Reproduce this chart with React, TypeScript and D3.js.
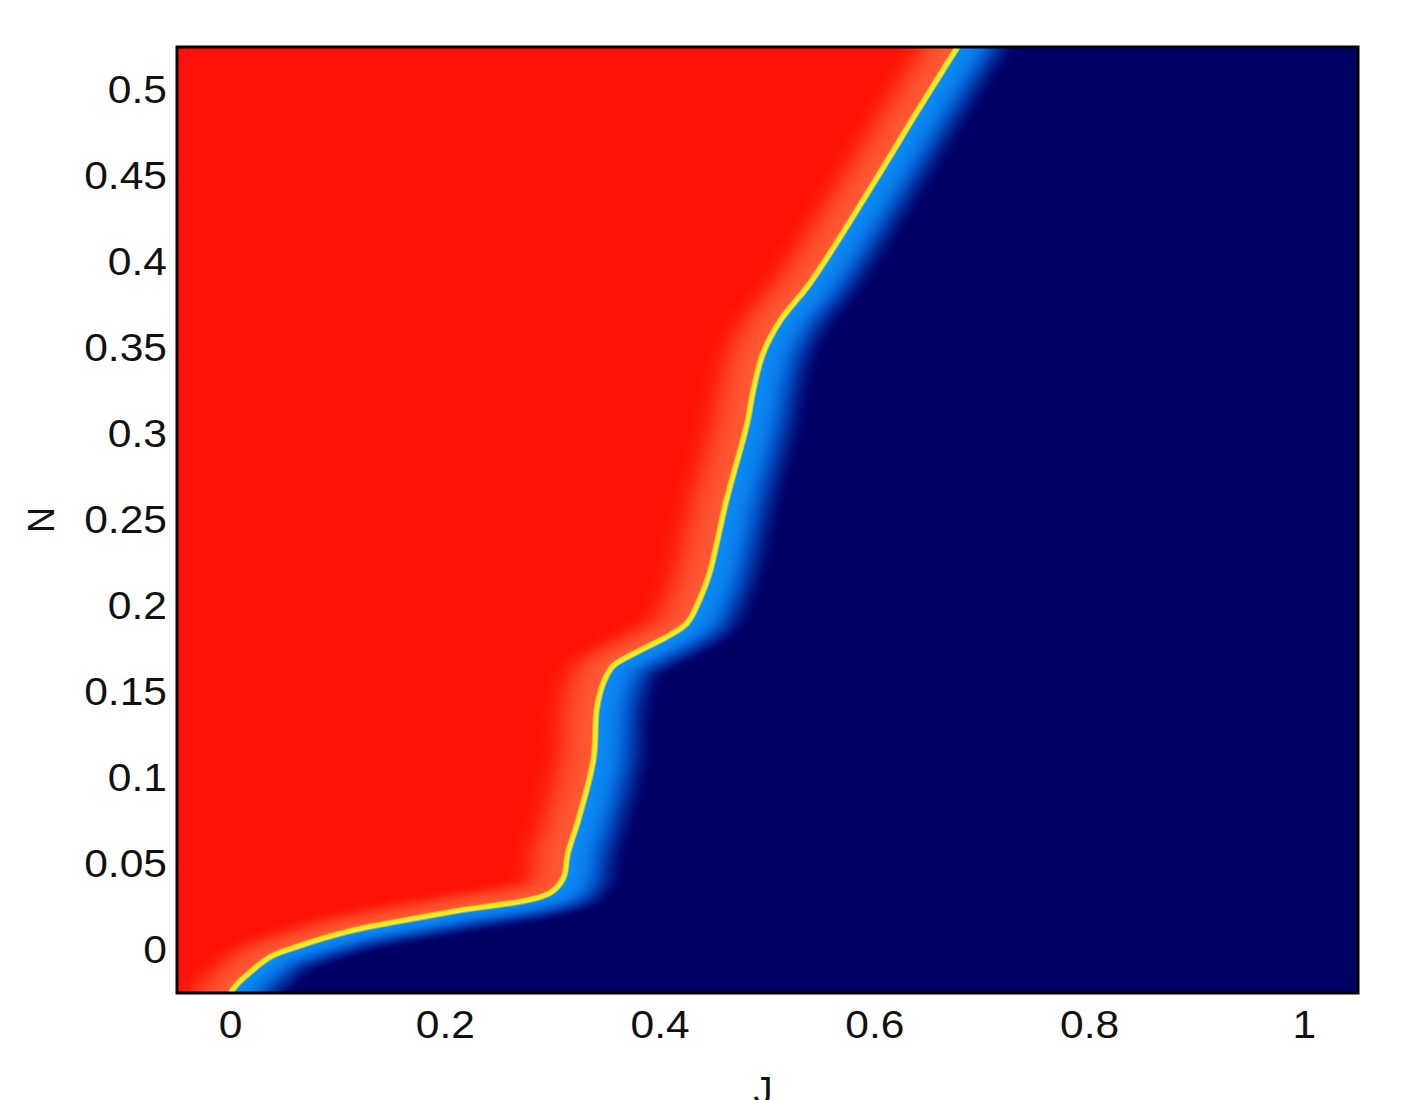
import React from "react";
import * as d3 from "d3";

// phase boundary (yellow line), bottom to top
const boundaryJ = [-0.003, 0.002, 0.018, 0.037, 0.062, 0.111, 0.204, 0.297, 0.31, 0.314, 0.324, 0.338, 0.341, 0.347, 0.356, 0.381, 0.406, 0.425, 0.437, 0.446, 0.462, 0.481, 0.487, 0.496, 0.512, 0.54, 0.602, 0.639, 0.675, 0.684];
const boundaryN = [-0.032, -0.023, -0.013, -0.004, 0.002, 0.011, 0.022, 0.033, 0.042, 0.056, 0.076, 0.111, 0.14, 0.155, 0.165, 0.174, 0.182, 0.19, 0.204, 0.219, 0.262, 0.306, 0.326, 0.347, 0.366, 0.388, 0.449, 0.487, 0.523, 0.532];

const xTicks = [0, 0.2, 0.4, 0.6, 0.8, 1];
const xTickLabels = ["0", "0.2", "0.4", "0.6", "0.8", "1"];
const yTicks = [0, 0.05, 0.1, 0.15, 0.2, 0.25, 0.3, 0.35, 0.4, 0.45, 0.5];
const yTickLabels = ["0", "0.05", "0.1", "0.15", "0.2", "0.25", "0.3", "0.35", "0.4", "0.45", "0.5"];

const RED = "#ff1207";
const ORANGE = "#ff5a36";
const YELLOW = "#ffe81a";
const NAVY = "#000064";
const blueRamp = d3.interpolateRgbBasis(["#0a8cf5", "#0a88f3", "#0a78ea", "#0050c4", "#00208c", "#000068", NAVY]);
const orangeRamp = d3.interpolateRgbBasis([ORANGE, "#ff5632", "#ff4a2a", "#ff3018", "#ff180a", RED]);

const WIDTH = 1416;
const HEIGHT = 1100;
const FONT = "'Liberation Sans', Arial, sans-serif";
const STRETCH = 1.12; // tick font in the picture is a little wider than Arial

export default function App() {
  const x = d3.scaleLinear().domain([-0.05, 1.05]).range([177, 1358]);
  const y = d3.scaleLinear().domain([-0.025, 0.525]).range([993, 47]);
  const [x0, x1] = x.range();
  const [y0, y1] = y.range();

  const pts = boundaryJ.map((j, i) => [j, boundaryN[i]] as [number, number]);

  // boundary in pixels, and a vertically stretched copy for the soft bands
  const curve = d3.curveCatmullRom.alpha(0.5);
  const line = d3.line<[number, number]>().x((d) => x(d[0])).y((d) => y(d[1])).curve(curve);
  const squash = 0.4;
  const lineStretched = d3
    .line<[number, number]>()
    .x((d) => x(d[0]))
    .y((d) => y(d[1]) / squash)
    .curve(curve);

  const bPath = line(pts) as string;
  const yBot = y(boundaryN[0]);
  const yTop = y(boundaryN[boundaryN.length - 1]);
  const leftPoly = `${bPath}L${x0 - 100},${yTop}L${x0 - 100},${yBot}Z`;
  const rightPoly = `${bPath}L${x1 + 100},${yTop}L${x1 + 100},${yBot}Z`;
  const sPath = lineStretched(pts) as string;

  const steps = 40;
  const wOrange = 60;
  const wBlue = 68;
  const orangeBands = d3.range(steps).map((i) => {
    const t = 1 - i / steps;
    return { w: 2 * wOrange * t, c: orangeRamp(t) };
  });
  const blueBands = d3.range(steps).map((i) => {
    const t = 1 - i / steps;
    return { w: 2 * wBlue * t, c: blueRamp(t) };
  });

  return (
    <svg
      width={WIDTH}
      height={HEIGHT}
      style={{ position: "absolute", left: 0, top: 0, background: "#fff" }}
    >
      <defs>
        <clipPath id="plotClip">
          <rect x={x0} y={y1} width={x1 - x0} height={y0 - y1} />
        </clipPath>
        <clipPath id="leftClip">
          <path d={leftPoly} />
        </clipPath>
        <clipPath id="rightClip">
          <path d={rightPoly} />
        </clipPath>
      </defs>

      <g clipPath="url(#plotClip)">
        <rect x={x0} y={y1} width={x1 - x0} height={y0 - y1} fill={NAVY} />
        <path d={leftPoly} fill={RED} />

        <g clipPath="url(#leftClip)">
          <g transform={`scale(1,${squash})`}>
            {orangeBands.map((b, i) => (
              <path key={i} d={sPath} fill="none" stroke={b.c} strokeWidth={b.w} strokeLinejoin="round" strokeLinecap="round" />
            ))}
          </g>
        </g>
        <g clipPath="url(#rightClip)">
          <g transform={`scale(1,${squash})`}>
            {blueBands.map((b, i) => (
              <path key={i} d={sPath} fill="none" stroke={b.c} strokeWidth={b.w} strokeLinejoin="round" strokeLinecap="round" />
            ))}
          </g>
        </g>

        <path d={bPath} fill="none" stroke="#d8e040" strokeWidth={6.5} strokeLinejoin="round" opacity={0.6} />
        <path d={bPath} fill="none" stroke={YELLOW} strokeWidth={4.5} strokeLinejoin="round" />
      </g>

      <rect x={x0} y={y1} width={x1 - x0} height={y0 - y1} fill="none" stroke="#000" strokeWidth={3} />

      {xTicks.map((t, i) => (
        <g key={t} transform={`translate(${x(t)},1038) scale(${STRETCH},1)`}>
          <text textAnchor="middle" fontFamily={FONT} fontSize={38} fill="#111">
            {xTickLabels[i]}
          </text>
        </g>
      ))}
      {yTicks.map((t, i) => (
        <g key={t} transform={`translate(167,${y(t) + 13}) scale(${STRETCH},1)`}>
          <text textAnchor="end" fontFamily={FONT} fontSize={38} fill="#111">
            {yTickLabels[i]}
          </text>
        </g>
      ))}

      <text x={763} y={1104} textAnchor="middle" fontFamily={FONT} fontSize={38} fill="#111">
        J
      </text>
      <text
        transform={`translate(54,${(y0 + y1) / 2}) rotate(-90)`}
        textAnchor="middle"
        fontFamily={FONT}
        fontSize={36}
        fill="#111"
      >
        N
      </text>
    </svg>
  );
}
